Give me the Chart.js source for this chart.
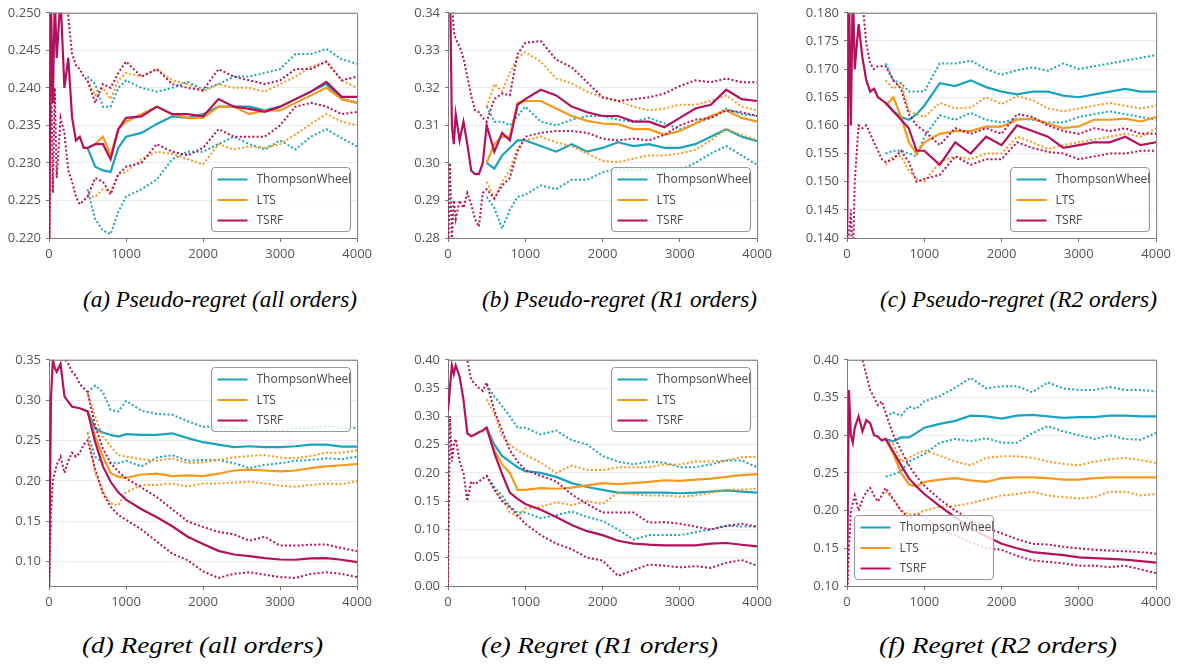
<!DOCTYPE html>
<html><head><meta charset="utf-8">
<script src="https://cdn.jsdelivr.net/npm/chart.js@4.4.1/dist/chart.umd.min.js"></script>
<style>
html,body{margin:0;padding:0;background:#fff;width:1180px;height:666px;overflow:hidden;}
.panel{position:absolute;}
.cap{position:absolute;font-family:'Liberation Serif',serif;font-style:italic;font-weight:400;font-size:23px;line-height:26px;color:#000;white-space:nowrap;transform-origin:0 50%;}
</style></head><body>
<script>
// ---------- shared steps ----------
const stepsEarly = [0,25,50,75,100,150,200,250,300,350,400,450];
const stepsMain = [500,600,700,800,900,1000,1200,1400,1600,1800,2000,2200,2400,2600,2800,3000,3200,3400,3600,3800,4000];
const xTicks = [0,1000,2000,3000,4000];
const methodNames = ['ThompsonWheel','LTS','TSRF'];
const captions = ['(a) Pseudo-regret (all orders)','(b) Pseudo-regret (R1 orders)','(c) Pseudo-regret (R2 orders)','(d) Regret (all orders)','(e) Regret (R1 orders)','(f) Regret (R2 orders)'];

// ---------- tick labels ----------
const aTicks = [0.220,0.225,0.230,0.235,0.240,0.245,0.250];
const bTicks = [0.28,0.29,0.30,0.31,0.32,0.33,0.34];
const cTicks = [0.140,0.145,0.150,0.155,0.160,0.165,0.170,0.175,0.180];
const dTicks = [0.10,0.15,0.20,0.25,0.30,0.35];
const eTicks = [0.00,0.05,0.10,0.15,0.20,0.25,0.30,0.35,0.40];
const fTicks = [0.10,0.15,0.20,0.25,0.30,0.35,0.40];

// ---------- (a) pseudo-regret all ----------
const aTsrfMean = [0.215,0.252,0.238,0.252,0.244,0.252,0.240,0.244,0.236,0.233,0.2335,0.232, 0.232,0.2325,0.2325,0.2305,0.2345,0.236,0.2362,0.2375,0.2365,0.2365,0.2362,0.2385,0.2375,0.2372,0.2368,0.2375,0.2385,0.2395,0.2408,0.2388,0.2388];
const aTsrfHi = [0.26,0.26,0.26,0.26,0.26,0.26,0.26,0.2495,0.2445,0.243,0.2425,0.2415, 0.241,0.238,0.2405,0.240,0.242,0.2435,0.2415,0.2425,0.2405,0.240,0.2397,0.2425,0.2415,0.241,0.2405,0.241,0.2425,0.2425,0.2435,0.241,0.2415];
const aTsrfLo = [0.21,0.245,0.226,0.24,0.228,0.236,0.234,0.229,0.2275,0.2255,0.2245,0.225, 0.2255,0.228,0.2275,0.2258,0.2285,0.2295,0.230,0.2325,0.2315,0.231,0.232,0.2345,0.2335,0.2335,0.2335,0.235,0.2375,0.238,0.2375,0.2365,0.2368];
const aTwMean = [0.232,0.2295,0.229,0.2288,0.232,0.2335,0.234,0.2352,0.2362,0.236,0.2365,0.2375,0.2375,0.2375,0.237,0.2375,0.2385,0.2395,0.2405,0.2385,0.238];
const aTwHi = [0.2415,0.2405,0.2375,0.2375,0.240,0.241,0.240,0.2395,0.240,0.2408,0.2398,0.2405,0.2415,0.2415,0.242,0.2425,0.2445,0.2445,0.2452,0.2438,0.2432];
const aTwLo = [0.2265,0.2225,0.221,0.2205,0.2235,0.2255,0.2265,0.2278,0.2305,0.2315,0.2315,0.2325,0.2335,0.2325,0.2318,0.233,0.2318,0.2335,0.2345,0.2333,0.2322];
const aLtsMean = [0.232,0.2325,0.2335,0.231,0.2345,0.2355,0.2365,0.2375,0.2365,0.236,0.236,0.2375,0.2375,0.2365,0.237,0.237,0.238,0.239,0.240,0.2385,0.238];
const aLtsHi = [0.241,0.239,0.240,0.2385,0.241,0.242,0.2415,0.2425,0.241,0.2405,0.2395,0.2405,0.240,0.240,0.2395,0.2405,0.2415,0.2428,0.2435,0.241,0.240];
const aLtsLo = [0.2255,0.2255,0.2265,0.2262,0.2285,0.2288,0.2305,0.2315,0.2312,0.2305,0.2298,0.2325,0.2318,0.2322,0.232,0.2325,0.2338,0.2352,0.2365,0.2355,0.235];

// ---------- (b) pseudo-regret R1 ----------
const bTsrfMean = [0.345,0.35,0.31,0.305,0.313,0.306,0.311,0.305,0.298,0.297,0.297,0.30, 0.31,0.303,0.308,0.306,0.3155,0.317,0.3195,0.318,0.315,0.3135,0.3125,0.3125,0.311,0.311,0.3095,0.312,0.3145,0.3155,0.3195,0.317,0.3165];
const bTsrfHi = [0.36,0.36,0.345,0.335,0.333,0.331,0.328,0.323,0.318,0.314,0.3135,0.312, 0.311,0.317,0.3185,0.318,0.329,0.332,0.3325,0.3275,0.3255,0.3215,0.3175,0.3165,0.317,0.3175,0.3185,0.3205,0.322,0.3215,0.3225,0.3215,0.3215];
const bTsrfLo = [0.27,0.30,0.28,0.29,0.285,0.29,0.288,0.292,0.289,0.285,0.283,0.292, 0.293,0.2905,0.294,0.296,0.303,0.307,0.308,0.3085,0.3085,0.308,0.3065,0.306,0.3065,0.306,0.3075,0.310,0.3115,0.312,0.314,0.3135,0.3125];
const bTwMean = [0.300,0.2985,0.302,0.304,0.306,0.306,0.3045,0.303,0.305,0.303,0.304,0.3055,0.3045,0.305,0.304,0.304,0.305,0.307,0.309,0.307,0.3058];
const bTwHi = [0.315,0.311,0.311,0.310,0.3125,0.315,0.311,0.310,0.3115,0.3125,0.3125,0.3115,0.311,0.312,0.3105,0.309,0.3105,0.312,0.3145,0.313,0.3125];
const bTwLo = [0.291,0.288,0.2825,0.2875,0.291,0.2915,0.294,0.293,0.2955,0.2955,0.2975,0.2985,0.298,0.2985,0.2985,0.298,0.300,0.3025,0.3045,0.302,0.2995];
const bLtsMean = [0.300,0.305,0.307,0.307,0.316,0.3165,0.3165,0.3145,0.3125,0.3112,0.3105,0.3103,0.309,0.309,0.3075,0.3085,0.3105,0.3125,0.314,0.312,0.311];
const bLtsHi = [0.315,0.321,0.319,0.324,0.328,0.3295,0.327,0.3225,0.3212,0.319,0.3175,0.3165,0.315,0.314,0.3145,0.3155,0.3155,0.3165,0.318,0.315,0.314];
const bLtsLo = [0.295,0.2905,0.295,0.298,0.304,0.306,0.307,0.3055,0.3045,0.3025,0.3005,0.3002,0.3012,0.302,0.302,0.3025,0.3035,0.306,0.309,0.3075,0.306];

// ---------- (c) pseudo-regret R2 ----------
const cTsrfMean = [0.135,0.185,0.16,0.185,0.17,0.178,0.172,0.168,0.166,0.1665,0.165,0.1645, 0.164,0.1625,0.161,0.1595,0.1555,0.1555,0.153,0.157,0.155,0.158,0.1565,0.160,0.159,0.158,0.156,0.1565,0.157,0.157,0.158,0.1565,0.157];
const cTsrfHi = [0.19,0.19,0.19,0.19,0.19,0.185,0.182,0.1745,0.171,0.170,0.1705,0.1705, 0.1705,0.168,0.1665,0.162,0.160,0.159,0.1565,0.1595,0.1585,0.1595,0.1585,0.162,0.1615,0.160,0.159,0.1585,0.1595,0.159,0.1595,0.1585,0.1585];
const cTsrfLo = [0.13,0.14,0.145,0.135,0.15,0.16,0.1595,0.160,0.1585,0.157,0.1555,0.154, 0.1535,0.154,0.1555,0.1535,0.150,0.1505,0.1512,0.1545,0.153,0.154,0.154,0.157,0.156,0.1553,0.155,0.154,0.1545,0.155,0.155,0.1555,0.1555];
const cTwMean = [0.164,0.1625,0.1615,0.161,0.162,0.1635,0.1675,0.167,0.168,0.1668,0.166,0.1655,0.166,0.166,0.1653,0.165,0.1655,0.166,0.1665,0.166,0.166];
const cTwHi = [0.171,0.168,0.1675,0.166,0.166,0.166,0.171,0.171,0.1715,0.170,0.169,0.1698,0.1703,0.1697,0.171,0.170,0.1705,0.171,0.1715,0.172,0.1725];
const cTwLo = [0.155,0.1555,0.1555,0.155,0.1545,0.158,0.1618,0.161,0.1622,0.161,0.1605,0.1612,0.161,0.1605,0.1605,0.1615,0.162,0.1625,0.162,0.1615,0.161];
const cLtsMean = [0.1635,0.165,0.1615,0.157,0.155,0.157,0.1585,0.159,0.159,0.1598,0.1598,0.161,0.1612,0.1603,0.1595,0.1598,0.161,0.161,0.1612,0.1607,0.1615];
const cLtsHi = [0.168,0.1665,0.1675,0.1625,0.162,0.1615,0.164,0.163,0.1632,0.165,0.1638,0.1652,0.1645,0.163,0.1625,0.163,0.1635,0.164,0.1635,0.163,0.1635];
const cLtsLo = [0.153,0.1545,0.1545,0.152,0.1505,0.150,0.1535,0.1545,0.154,0.155,0.155,0.158,0.157,0.1558,0.1565,0.157,0.1575,0.158,0.1585,0.158,0.1595];

// ---------- (d) regret all ----------
const dTsrfMean = [0.06,0.30,0.35,0.34,0.335,0.345,0.305,0.298,0.292,0.291,0.29,0.288, 0.2865,0.248,0.218,0.199,0.186,0.177,0.165,0.155,0.144,0.131,0.122,0.1135,0.109,0.107,0.1045,0.1028,0.1025,0.1043,0.1045,0.1025,0.0995];
const dTsrfHi = [0.36,0.36,0.36,0.36,0.36,0.36,0.352,0.345,0.335,0.33,0.32,0.315, 0.31,0.268,0.24,0.222,0.212,0.203,0.192,0.18,0.165,0.15,0.143,0.137,0.134,0.126,0.131,0.12,0.12,0.121,0.1215,0.117,0.113];
const dTsrfLo = [0.06,0.16,0.20,0.21,0.22,0.23,0.21,0.225,0.235,0.23,0.235,0.245, 0.25,0.215,0.185,0.168,0.158,0.152,0.14,0.125,0.11,0.102,0.088,0.08,0.085,0.087,0.084,0.081,0.08,0.085,0.087,0.085,0.081];
const dTwMean = [0.2865,0.265,0.26,0.257,0.255,0.258,0.257,0.257,0.259,0.253,0.248,0.245,0.242,0.243,0.242,0.242,0.243,0.245,0.245,0.2425,0.2425];
const dTwHi = [0.31,0.318,0.31,0.288,0.286,0.299,0.287,0.283,0.282,0.274,0.267,0.267,0.266,0.262,0.263,0.262,0.265,0.266,0.268,0.265,0.266];
const dTwLo = [0.26,0.23,0.222,0.223,0.222,0.225,0.218,0.229,0.232,0.225,0.226,0.226,0.222,0.216,0.22,0.222,0.225,0.226,0.228,0.227,0.23];
const dLtsMean = [0.2865,0.255,0.23,0.21,0.205,0.204,0.208,0.209,0.206,0.207,0.206,0.209,0.213,0.214,0.213,0.212,0.213,0.216,0.218,0.2195,0.221];
const dLtsHi = [0.31,0.28,0.255,0.243,0.232,0.23,0.227,0.225,0.228,0.222,0.223,0.226,0.229,0.231,0.232,0.229,0.228,0.231,0.235,0.235,0.238];
const dLtsLo = [0.26,0.21,0.187,0.172,0.17,0.186,0.195,0.195,0.197,0.193,0.197,0.197,0.198,0.199,0.197,0.194,0.193,0.195,0.197,0.196,0.2];

// ---------- (e) regret R1 ----------
const eTsrfMean = [0.31,0.35,0.39,0.375,0.39,0.37,0.33,0.27,0.265,0.268,0.272,0.275, 0.28,0.235,0.198,0.165,0.154,0.145,0.135,0.122,0.108,0.097,0.09,0.08,0.075,0.073,0.072,0.072,0.072,0.075,0.076,0.073,0.07];
const eTsrfHi = [0.42,0.42,0.42,0.42,0.42,0.41,0.405,0.40,0.365,0.357,0.35,0.345, 0.36,0.31,0.275,0.24,0.22,0.205,0.195,0.185,0.162,0.145,0.13,0.13,0.13,0.112,0.113,0.11,0.105,0.1,0.106,0.11,0.105];
const eTsrfLo = [0.0,0.3,0.22,0.25,0.26,0.22,0.2,0.15,0.185,0.18,0.185,0.19, 0.195,0.17,0.15,0.14,0.125,0.11,0.09,0.075,0.065,0.05,0.045,0.018,0.028,0.038,0.036,0.033,0.035,0.032,0.041,0.046,0.036];
const eTwMean = [0.28,0.25,0.23,0.22,0.21,0.203,0.2,0.193,0.182,0.175,0.17,0.165,0.165,0.165,0.165,0.164,0.165,0.167,0.169,0.167,0.165];
const eTwHi = [0.355,0.335,0.318,0.3,0.28,0.28,0.268,0.275,0.258,0.25,0.23,0.22,0.215,0.22,0.218,0.21,0.21,0.215,0.222,0.222,0.21];
const eTwLo = [0.195,0.175,0.16,0.14,0.13,0.13,0.12,0.125,0.132,0.122,0.115,0.1,0.082,0.09,0.09,0.09,0.095,0.1,0.107,0.105,0.105];
const eLtsMean = [0.28,0.24,0.215,0.2,0.17,0.17,0.173,0.172,0.174,0.178,0.182,0.18,0.182,0.184,0.187,0.186,0.188,0.19,0.193,0.196,0.198];
const eLtsHi = [0.33,0.305,0.265,0.25,0.24,0.232,0.218,0.2,0.213,0.205,0.205,0.21,0.21,0.21,0.215,0.215,0.22,0.22,0.222,0.228,0.228];
const eLtsLo = [0.195,0.17,0.155,0.13,0.123,0.137,0.14,0.148,0.143,0.15,0.145,0.165,0.162,0.16,0.16,0.158,0.16,0.165,0.17,0.17,0.172];

// ---------- (f) regret R2 ----------
const fTsrfMean = [0.09,0.36,0.3,0.29,0.31,0.325,0.305,0.32,0.316,0.3,0.298,0.293, 0.295,0.278,0.26,0.243,0.232,0.222,0.206,0.191,0.177,0.166,0.156,0.15,0.145,0.143,0.141,0.138,0.137,0.136,0.135,0.133,0.131];
const fTsrfHi = [0.42,0.42,0.42,0.42,0.42,0.41,0.40,0.38,0.36,0.35,0.34,0.345, 0.33,0.3,0.28,0.26,0.245,0.233,0.215,0.2,0.188,0.177,0.17,0.162,0.156,0.155,0.152,0.15,0.148,0.147,0.146,0.145,0.143];
const fTsrfLo = [0.08,0.15,0.2,0.21,0.22,0.2,0.215,0.225,0.23,0.22,0.212,0.22, 0.23,0.215,0.2,0.19,0.195,0.192,0.176,0.167,0.158,0.15,0.148,0.14,0.134,0.132,0.13,0.127,0.127,0.125,0.127,0.122,0.117];
const fTwMean = [0.295,0.292,0.297,0.297,0.303,0.31,0.315,0.319,0.326,0.325,0.322,0.326,0.327,0.325,0.323,0.324,0.324,0.326,0.326,0.325,0.325];
const fTwHi = [0.325,0.33,0.326,0.338,0.335,0.345,0.352,0.363,0.376,0.362,0.365,0.365,0.357,0.37,0.362,0.36,0.36,0.364,0.36,0.36,0.358];
const fTwLo = [0.245,0.248,0.252,0.265,0.27,0.275,0.29,0.295,0.292,0.296,0.29,0.29,0.303,0.312,0.305,0.3,0.295,0.3,0.295,0.294,0.303];
const fLtsMean = [0.295,0.275,0.25,0.235,0.232,0.238,0.241,0.243,0.24,0.238,0.243,0.244,0.244,0.243,0.241,0.241,0.243,0.244,0.244,0.244,0.244];
const fLtsHi = [0.295,0.288,0.265,0.27,0.275,0.28,0.273,0.265,0.26,0.27,0.272,0.272,0.27,0.265,0.262,0.26,0.265,0.268,0.27,0.267,0.263];
const fLtsLo = [0.225,0.215,0.2,0.195,0.195,0.2,0.205,0.206,0.21,0.215,0.22,0.222,0.225,0.22,0.218,0.216,0.218,0.225,0.225,0.22,0.222];

// ---------- styling / layout ----------
const COLORS = {ThompsonWheel:'#1aa3bf', LTS:'#f7981c', TSRF:'#b3105e'};
const stepsAll = stepsEarly.concat(stepsMain);

const panels = [
  {box:[49,8,358,238],  yMin:0.22, yMax:0.25, ticks:aTicks, dec:3, legend:'lr', cap:[83,287,274],
   s:{ThompsonWheel:[aTwMean,aTwHi,aTwLo], LTS:[aLtsMean,aLtsHi,aLtsLo], TSRF:[aTsrfMean,aTsrfHi,aTsrfLo]}},
  {box:[448,8,758,238], yMin:0.28, yMax:0.34, ticks:bTicks, dec:2, legend:'lr', cap:[482,287,275],
   s:{ThompsonWheel:[bTwMean,bTwHi,bTwLo], LTS:[bLtsMean,bLtsHi,bLtsLo], TSRF:[bTsrfMean,bTsrfHi,bTsrfLo]}},
  {box:[847,8,1157,238], yMin:0.14, yMax:0.18, ticks:cTicks, dec:3, legend:'lr', cap:[880,287,277],
   s:{ThompsonWheel:[cTwMean,cTwHi,cTwLo], LTS:[cLtsMean,cLtsHi,cLtsLo], TSRF:[cTsrfMean,cTsrfHi,cTsrfLo]}},
  {box:[49,355,358,586], yMin:0.07, yMax:0.35, ticks:dTicks, dec:2, legend:'ur', cap:[82,633,241],
   s:{ThompsonWheel:[dTwMean,dTwHi,dTwLo], LTS:[dLtsMean,dLtsHi,dLtsLo], TSRF:[dTsrfMean,dTsrfHi,dTsrfLo]}},
  {box:[448,355,758,586], yMin:0.0, yMax:0.40, ticks:eTicks, dec:2, legend:'ur', cap:[481,633,237],
   s:{ThompsonWheel:[eTwMean,eTwHi,eTwLo], LTS:[eLtsMean,eLtsHi,eLtsLo], TSRF:[eTsrfMean,eTsrfHi,eTsrfLo]}},
  {box:[847,355,1157,586], yMin:0.10, yMax:0.40, ticks:fTicks, dec:2, legend:'ll', cap:[879,633,238],
   s:{ThompsonWheel:[fTwMean,fTwHi,fTwLo], LTS:[fLtsMean,fLtsHi,fLtsLo], TSRF:[fTsrfMean,fTsrfHi,fTsrfLo]}},
];

const Y_W = 48, PAD_T = 8, PAD_R = 18, X_H = 28;

const framePlugin = {
  id: 'frameLegend',
  afterDatasetsDraw(chart, args, opts) {
    const {ctx, chartArea: a} = chart;
    ctx.save();
    ctx.strokeStyle = '#7a7a7a';
    ctx.lineWidth = 1;
    ctx.beginPath();
    ctx.moveTo(a.left, a.top + 0.5); ctx.lineTo(a.right + 0.5, a.top + 0.5);
    ctx.lineTo(a.right + 0.5, a.bottom);
    ctx.stroke();
    // legend
    const W = 139, H = 64, m = 7;
    let x, y;
    if (opts.pos === 'lr') { x = a.right - m - W; y = a.bottom - m - H; }
    else if (opts.pos === 'ur') { x = a.right - m - W; y = a.top + m; }
    else { x = a.left + m; y = a.bottom - m - H; }
    x = Math.round(x) + 0.5; y = Math.round(y) + 0.5;
    ctx.beginPath();
    ctx.roundRect(x, y, W, H, 4);
    ctx.fillStyle = 'rgba(255,255,255,0.8)';
    ctx.fill();
    ctx.strokeStyle = '#9a9a9a';
    ctx.lineWidth = 1.2;
    ctx.stroke();
    ctx.font = '12px "Open Sans", sans-serif';
    ctx.textBaseline = 'middle';
    ctx.fillStyle = '#4a4a4a';
    methodNames.forEach((name, i) => {
      const ly = y + 12 + i * 20.5;
      ctx.beginPath();
      ctx.strokeStyle = COLORS[name];
      ctx.lineWidth = 2;
      ctx.moveTo(x + 6, ly); ctx.lineTo(x + 36, ly);
      ctx.stroke();
      ctx.fillText(name, x + 45, ly + 0.5);
    });
    ctx.restore();
  }
};

function mk(xs, ys) { return ys.map((v, i) => ({x: xs[i], y: v})); }

panels.forEach((p, idx) => {
  const [l, t, r, b] = p.box;
  const w = (r - l) + Y_W + PAD_R, h = (b - t) + PAD_T + X_H;
  const div = document.createElement('div');
  div.className = 'panel';
  div.style.left = (l - Y_W) + 'px';
  div.style.top = (t - PAD_T) + 'px';
  div.style.width = w + 'px';
  div.style.height = h + 'px';
  const cv = document.createElement('canvas');
  cv.width = w; cv.height = h;
  cv.style.width = w + 'px'; cv.style.height = h + 'px';
  div.appendChild(cv);
  document.body.appendChild(div);

  const datasets = [];
  const order = {TSRF: 0, LTS: 1, ThompsonWheel: 2};
  methodNames.forEach(name => {
    const xs = name === 'TSRF' ? stepsAll : stepsMain;
    const [mean, hi, lo] = p.s[name];
    [[mean, false], [hi, true], [lo, true]].forEach(([ys, dotted]) => {
      datasets.push({
        label: name,
        data: mk(xs, ys),
        borderColor: COLORS[name],
        borderWidth: dotted ? 2 : 2.2,
        borderDash: dotted ? [2, 2.2] : [],
        pointRadius: 0,
        fill: false,
        tension: 0,
        order: order[name],
      });
    });
  });

  new Chart(cv, {
    type: 'line',
    data: {datasets},
    options: {
      responsive: false,
      animation: false,
      devicePixelRatio: 1,
      layout: {padding: {left: 0, top: PAD_T, right: PAD_R, bottom: 0}},
      plugins: {legend: {display: false}, tooltip: {enabled: false}, frameLegend: {pos: p.legend}},
      scales: {
        x: {
          type: 'linear', min: 0, max: 4000,
          afterBuildTicks: s => { s.ticks = xTicks.map(v => ({value: v})); },
          afterFit: s => { s.height = X_H; },
          grid: {drawOnChartArea: false, drawTicks: true, tickLength: 4, tickColor: '#777'},
          border: {color: '#7a7a7a', width: 1},
          ticks: {color: '#555', font: {family: '"Open Sans", sans-serif', size: 13}, padding: 4, maxRotation: 0, autoSkip: false,
                  callback: v => String(v)}
        },
        y: {
          type: 'linear', min: p.yMin, max: p.yMax,
          afterBuildTicks: s => { s.ticks = p.ticks.map(v => ({value: v})); },
          afterFit: s => { s.width = Y_W; },
          grid: {color: '#ebebeb', lineWidth: 1, drawTicks: true, tickLength: 3, tickColor: '#777'},
          border: {color: '#7a7a7a', width: 1},
          ticks: {color: '#555', font: {family: '"Open Sans", sans-serif', size: 13}, padding: 5, autoSkip: false,
                  callback: v => Number(v).toFixed(p.dec)}
        }
      }
    },
    plugins: [framePlugin]
  });

  const cap = document.createElement('div');
  cap.className = 'cap';
  cap.textContent = captions[idx];
  cap.style.left = p.cap[0] + 'px';
  cap.style.top = p.cap[1] + 'px';
  document.body.appendChild(cap);
  const wNow = cap.getBoundingClientRect().width;
  if (wNow > 0) cap.style.transform = 'scaleX(' + (p.cap[2] / wNow).toFixed(4) + ')';
});
</script>
</body></html>
